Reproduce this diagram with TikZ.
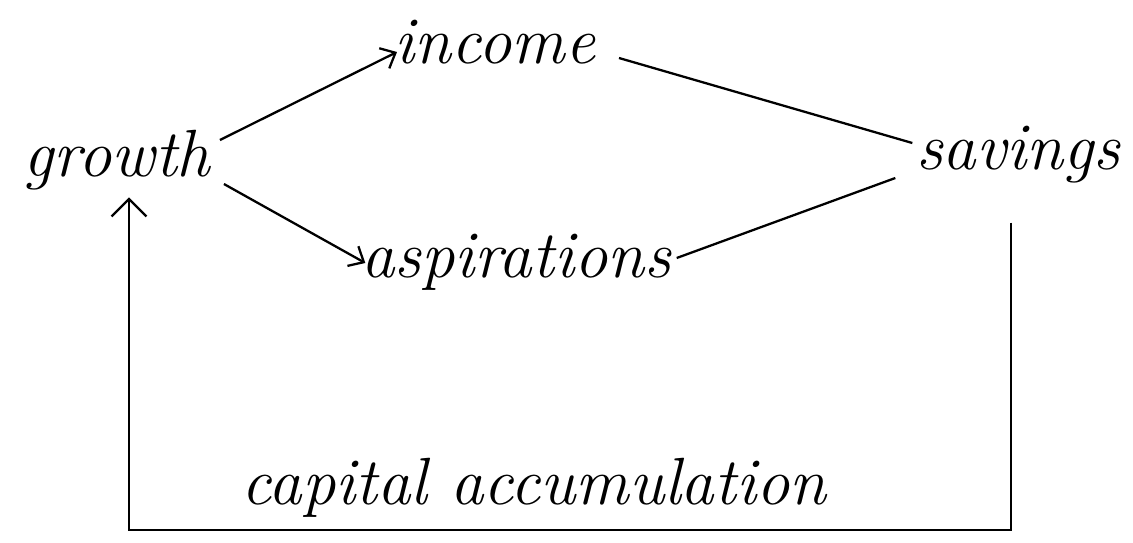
\documentclass[tikz,border=0pt]{standalone}
\usepackage{tikz}
\usetikzlibrary{arrows.meta, calc}

\begin{document}
\begin{tikzpicture}[x=0.02cm, y=-0.02cm,
  word/.style={inner sep=2pt, font=\fontsize{38}{42}\selectfont\itshape},
  link/.style={line width=1.3pt},
  arr/.style={link, -{Straight Barb[length=2.5mm, width=4.5mm]}},
  bigarr/.style={link, -{Straight Barb[length=3.5mm, width=7mm]}},
]
\useasboundingbox (0,0) rectangle (1133,542);
% Words
\node[word] (growth) at (117,160) {growth};
\node[word] (income) at (495,42) {income};
\node[word] (savings) at (1018,155) {savings};
\node[word] (aspir) at (516,262) {aspirations};
\node[word] (capital) at (534,488) {capital accumulation};

% Ends of the connectors
\coordinate (g1) at ($(growth.east)+(6,-20)$);
\coordinate (g2) at ($(growth.east)+(10,24)$);
\coordinate (i1) at ($(income.west)+(6,10)$);
\coordinate (i2) at ($(income.east)+(20,16)$);
\coordinate (a1) at ($(aspir.west)+(8,1)$);
\coordinate (a2) at ($(aspir.east)+(2,-4)$);
\coordinate (s1) at ($(savings.west)+(0,-12)$);
\coordinate (s2) at ($(savings.west)+(-17,23)$);
% Corners of the feedback loop
\coordinate (br) at (1011,530);
\coordinate (bl) at (129,530);

% Arrows
\draw[arr] (g1) -- (i1);
\draw[arr] (g2) -- (a1);
\draw[link] (i2) -- (s1);
\draw[link] (a2) -- (s2);
\draw[bigarr] ([yshift=-20pt]savings.south -| br) -- (br) -- (bl) -- ([yshift=-2pt]bl |- growth.south);
\end{tikzpicture}
\end{document}
